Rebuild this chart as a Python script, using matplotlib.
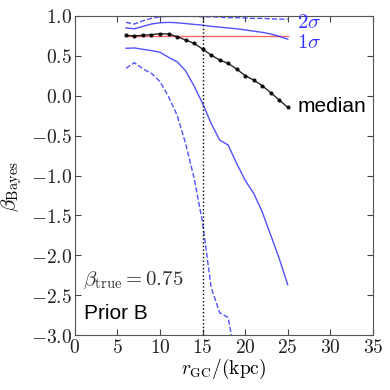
import numpy as np
import matplotlib
matplotlib.use('Agg')
import matplotlib.pyplot as plt
from matplotlib.ticker import FuncFormatter, MultipleLocator

plt.rcParams['mathtext.fontset'] = 'cm'

# ── data ────────────────────────────────────────────────────────────────────
r_gc = [6, 7, 8, 9, 10, 11, 12, 13, 14, 15, 16, 17, 18, 19, 20, 21, 22, 23, 24, 25]
median = [0.758, 0.749, 0.758, 0.766, 0.778, 0.774, 0.741, 0.700, 0.657, 0.586,
          0.511, 0.448, 0.406, 0.335, 0.252, 0.197, 0.126, 0.039, -0.053, -0.145]
up_1sig = [0.85, 0.84, 0.87, 0.90, 0.915, 0.92, 0.915, 0.905, 0.895, 0.885,
           0.87, 0.86, 0.85, 0.84, 0.825, 0.81, 0.795, 0.775, 0.745, 0.71]
lo_1sig = [0.595, 0.599, 0.582, 0.566, 0.545, 0.482, 0.427, 0.314, 0.122, -0.095,
           -0.346, -0.555, -0.618, -0.847, -1.06, -1.223, -1.454, -1.746, -2.04, -2.37]
up_2sig = [0.92, 0.90, 0.94, 0.97, 0.99, 0.995, 0.995, 0.995, 0.995, 0.99,
           0.99, 0.985, 0.98, 0.98, 0.975, 0.97, 0.97, 0.965, 0.96, 0.96]
r_lo2 = [6, 7, 8, 9, 10, 11, 12, 13, 14, 15, 16, 17, 18, 19]
lo_2sig = [0.344, 0.415, 0.336, 0.281, 0.177, -0.011, -0.241, -0.596, -1.03, -1.59,
           -2.40, -2.72, -2.78, -3.35]
beta_true = 0.75
r_cut = 15

fig = plt.figure(figsize=(3.9, 3.9), dpi=100)
ax = fig.add_axes([0.192, 0.141, 0.764, 0.818])

blue = '#3333ff'
ax.plot([r_gc[0], r_gc[-1]], [beta_true, beta_true], color='red', lw=1, alpha=0.6)
ax.plot(r_gc, up_1sig, color=blue, lw=1, alpha=0.85)
ax.plot(r_gc, lo_1sig, color=blue, lw=1, alpha=0.85)
ax.plot(r_gc, up_2sig, color=blue, lw=1, ls='--', alpha=0.85)
ax.plot(r_lo2, lo_2sig, color=blue, lw=1, ls='--', alpha=0.85)
ax.plot(r_gc, median, color='k', lw=1, marker='o', ms=2, alpha=0.85)
ax.axvline(r_cut, color='k', ls=':', lw=1)

ax.text(26.1, 0.93, r'$2\sigma$', color=blue, fontsize=15, va='center')
ax.text(26.1, 0.67, r'$1\sigma$', color=blue, fontsize=15, va='center')
ax.text(26.1, -0.13, 'median', color='k', fontsize=15, va='center',
        family='Liberation Sans')
ax.text(1.0, -2.31, r'$\beta_{\rm true} = 0.75$', color='#333333', fontsize=15,
        va='center')
ax.text(1.1, -2.73, 'Prior B', color='k', fontsize=15, va='center',
        family='Liberation Sans')

ax.set_xlim(0, 35)
ax.set_ylim(-3.0, 1.0)
ax.xaxis.set_major_locator(MultipleLocator(5))
ax.yaxis.set_major_locator(MultipleLocator(0.5))
ax.xaxis.set_major_formatter(FuncFormatter(lambda v, p: r'$%d$' % v))
ax.yaxis.set_major_formatter(FuncFormatter(lambda v, p: r'$%.1f$' % v))
ax.tick_params(direction='in', top=True, right=True, length=4, width=0.8,
               labelsize=14, color='#444444', labelcolor='#222222', pad=2)
for s in ax.spines.values():
    s.set_color('#555555')

ax.set_xlabel(r'$r_{\rm GC}/({\rm kpc})$', fontsize=14, labelpad=0)
ax.set_ylabel(r'$\beta_{\rm Bayes}$', fontsize=15)
ax.yaxis.set_label_coords(-0.17, 0.465)

fig.savefig('out.png', dpi=100)
